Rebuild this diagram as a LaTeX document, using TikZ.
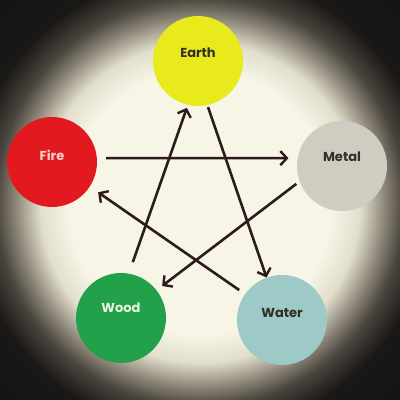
\documentclass[tikz,border=0pt]{standalone}
\usepackage{fontspec}
\setmainfont{Poppins}
\usetikzlibrary{arrows.meta}
\definecolor{cream}{HTML}{F6F5E6}
\definecolor{vigA}{HTML}{E2DECC}
\definecolor{vigB}{HTML}{8E887A}
\definecolor{vigC}{HTML}{4A453E}
\definecolor{vigD}{HTML}{1A1816}
\definecolor{vigE}{HTML}{0E0C0B}
\definecolor{cEarth}{HTML}{E9EA1C}
\definecolor{cFire}{HTML}{E2191F}
\definecolor{cMetal}{HTML}{CFCDC2}
\definecolor{cWood}{HTML}{23A04A}
\definecolor{cWater}{HTML}{9DC9C6}
\definecolor{tDark}{HTML}{332E26}
\definecolor{tFire}{HTML}{F3D2CE}
\definecolor{tWood}{HTML}{E6F2E0}
\definecolor{arrowc}{HTML}{2E1A1E}
\pgfdeclareradialshading{vig}{\pgfpoint{0bp}{-0.5bp}}{color(0bp)=(cream);color(16.5bp)=(cream);color(20bp)=(vigA);color(23bp)=(vigB);color(25.5bp)=(vigC);color(29bp)=(vigD);color(50bp)=(vigE)}
\tikzset{
  ball/.style={circle, minimum size=90pt, inner sep=0pt, draw=none},
  lbl/.style={font=\bfseries\fontsize{13}{15}\selectfont, inner sep=0pt},
  arr/.style={draw=arrowc, line width=2.6pt, -{Straight Barb[length=6.5pt,width=14pt,line width=2.4pt]}}
}
\begin{document}
\begin{tikzpicture}[x=1pt,y=-1pt]
\useasboundingbox (0,0) rectangle (400,400);
\shade[shading=vig] (0,0) rectangle (400,400);
\node[ball, fill=cEarth, label={[lbl,text=tDark,yshift=8pt]center:Earth}] (earth) at (198,61) {};
\node[ball, fill=cFire, label={[lbl,text=tFire,yshift=7pt]center:Fire}] (fire) at (52,162) {};
\node[ball, fill=cMetal, label={[lbl,text=tDark,yshift=9pt]center:Metal}] (metal) at (342,166) {};
\node[ball, fill=cWood, label={[lbl,text=tWood,yshift=10pt]center:Wood}] (wood) at (121,318) {};
\node[ball, fill=cWater, label={[lbl,text=tDark,yshift=7pt]center:Water}] (water) at (282,320) {};
\draw[arr, shorten <=9pt, shorten >=9pt] (fire.5) -- (metal.170);
\draw[arr, shorten <=4pt, shorten >=7pt] (metal.200) -- (wood.38);
\draw[arr, shorten <=12pt, shorten >=3pt] (wood.80) -- (earth.257);
\draw[arr, shorten <=2pt, shorten >=0pt] (earth.282) -- (water.110);
\draw[arr, shorten <=7pt, shorten >=10pt] (water.145) -- (fire.327);
\end{tikzpicture}
\end{document}
